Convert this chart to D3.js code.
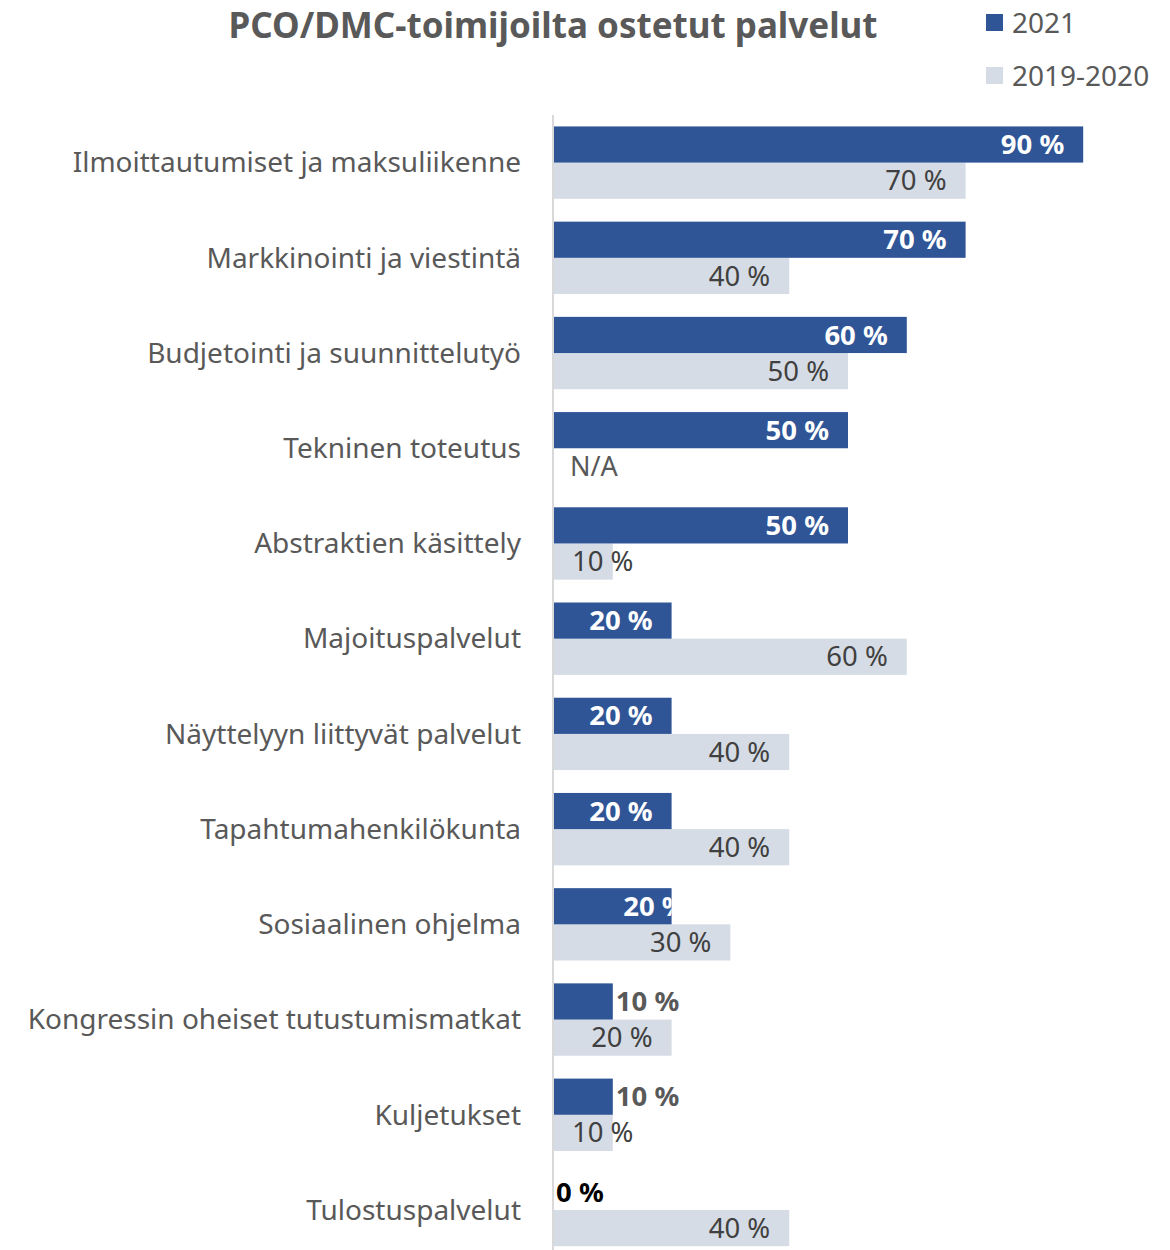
<!DOCTYPE html>
<html>
<head>
<meta charset="utf-8">
<script src="https://cdn.jsdelivr.net/npm/d3@7"></script>
<style>
  body { margin: 0; background: #fff; }
  svg { display: block; font-family: "Noto Sans", "Open Sans", sans-serif; }
</style>
</head>
<body>
<div id="chart"></div>
<script>
const categories = [
  "Ilmoittautumiset ja maksuliikenne",
  "Markkinointi ja viestintä",
  "Budjetointi ja suunnittelutyö",
  "Tekninen toteutus",
  "Abstraktien käsittely",
  "Majoituspalvelut",
  "Näyttelyyn liittyvät palvelut",
  "Tapahtumahenkilökunta",
  "Sosiaalinen ohjelma",
  "Kongressin oheiset tutustumismatkat",
  "Kuljetukset",
  "Tulostuspalvelut"
];
const seriesNames = ["2021", "2019-2020"];
const values2021 = [0.9, 0.7, 0.6, 0.5, 0.5, 0.2, 0.2, 0.2, 0.2, 0.1, 0.1, 0];
const values2019 = [0.7, 0.4, 0.5, null, 0.1, 0.6, 0.4, 0.4, 0.3, 0.2, 0.1, 0.4];
const title = "PCO/DMC-toimijoilta ostetut palvelut";

const W = 1170, H = 1250;
const colors = {"2021": "#2F5597", "2019-2020": "#D6DCE5"};

const svg = d3.select("#chart").append("svg").attr("width", W).attr("height", H);

const x = d3.scaleLinear().domain([0, 1]).range([554, 1142]);
const y = d3.scaleBand().domain(categories).range([115, 1257.6]).paddingInner(0.24).paddingOuter(0.12);
const sub = d3.scaleBand().domain(seriesNames).range([0, y.bandwidth()]);
const pct = d => d3.format(".0f")(d * 100) + " %";

// title
svg.append("text").attr("x", 553).attr("y", 38).attr("text-anchor", "middle")
  .attr("font-size", 35).attr("font-weight", "bold").attr("fill", "#595959").text(title);

// legend
const legend = svg.append("g").selectAll("g").data(seriesNames).enter().append("g")
  .attr("transform", (d, i) => `translate(986,${14 + i * 53})`);
legend.append("rect").attr("width", 17).attr("height", 17).attr("fill", d => colors[d]);
legend.append("text").attr("x", 26).attr("y", 19).attr("font-size", 28).attr("fill", "#595959").text(d => d);

// category labels
svg.append("g").selectAll("text").data(categories).enter().append("text")
  .attr("x", 521).attr("y", d => y(d) + y.bandwidth() / 2).attr("dy", "0.35em")
  .attr("text-anchor", "end").attr("font-size", 28).attr("fill", "#595959").text(d => d);

const rows = categories.map((c, i) => ({cat: c, a: values2021[i], b: values2019[i], i}));

const defs = svg.append("defs");

// gray bars (2019-2020)
const gGray = svg.append("g");
rows.forEach(r => {
  const yy = y(r.cat) + sub("2019-2020");
  const cy = yy + sub.bandwidth() / 2;
  if (r.b == null) {
    gGray.append("text").attr("x", 570).attr("y", cy).attr("dy", "0.35em")
      .attr("font-size", 27).attr("fill", "#595959").text("N/A");
    return;
  }
  gGray.append("rect").attr("x", x(0)).attr("y", yy).attr("width", x(r.b) - x(0)).attr("height", sub.bandwidth())
    .attr("fill", colors["2019-2020"]);
  const t = gGray.append("text").attr("y", cy).attr("dy", "0.35em").attr("font-size", 27.5)
    .attr("fill", "#404040").text(pct(r.b));
  if (x(r.b) - x(0) < 110) t.attr("x", x(0) + 18).attr("text-anchor", "start");
  else t.attr("x", x(r.b) - 19).attr("text-anchor", "end");
});

// blue bars (2021)
const gBlue = svg.append("g");
rows.forEach(r => {
  const yy = y(r.cat) + sub("2021");
  const cy = yy + sub.bandwidth() / 2;
  const w = x(r.a) - x(0);
  if (w > 0) {
    gBlue.append("rect").attr("x", x(0)).attr("y", yy).attr("width", w).attr("height", sub.bandwidth())
      .attr("fill", colors["2021"]);
  }
  const t = gBlue.append("text").attr("y", cy).attr("dy", "0.35em").attr("font-size", 27.5)
    .attr("font-weight", "bold").text(pct(r.a));
  if (r.a === 0) {
    t.attr("x", x(0) + 2).attr("fill", "#000");
  } else if (w < 80) {
    t.attr("x", x(r.a) + 3).attr("fill", "#595959");
  } else if (r.cat === "Sosiaalinen ohjelma") {
    // label clipped at the bar end, as in the original
    defs.append("clipPath").attr("id", "clip" + r.i).append("rect")
      .attr("x", x(0)).attr("y", yy).attr("width", w).attr("height", sub.bandwidth());
    t.attr("x", x(r.a) + 15).attr("text-anchor", "end").attr("fill", "#fff")
      .attr("clip-path", `url(#clip${r.i})`);
  } else {
    t.attr("x", x(r.a) - 19).attr("text-anchor", "end").attr("fill", "#fff");
  }
});

// vertical axis line
svg.append("line").attr("x1", 553).attr("x2", 553).attr("y1", 115).attr("y2", H)
  .attr("stroke", "#D9D9D9").attr("stroke-width", 2);
</script>
</body>
</html>
